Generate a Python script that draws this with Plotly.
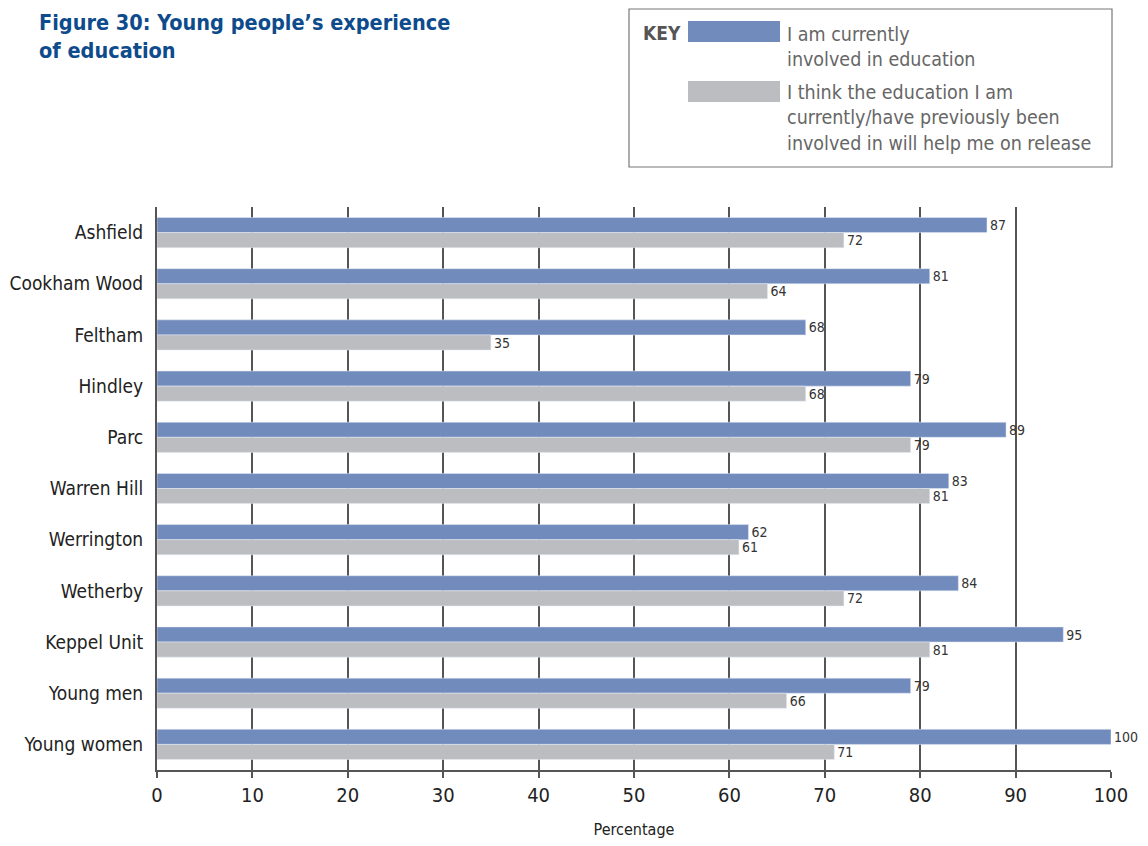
import plotly.graph_objects as go

categories = ["Ashfield", "Cookham Wood", "Feltham", "Hindley", "Parc", "Warren Hill",
              "Werrington", "Wetherby", "Keppel Unit", "Young men", "Young women"]
current = [87, 81, 68, 79, 89, 83, 62, 84, 95, 79, 100]
helpful = [72, 64, 35, 68, 79, 81, 61, 72, 81, 66, 71]
x_ticks = [0, 10, 20, 30, 40, 50, 60, 70, 80, 90, 100]

BLUE = "#728bbd"
GREY = "#bcbdc1"
FONT = "DejaVu Sans Condensed, Liberation Sans Narrow, sans-serif"

# page body has an 8px default margin; work in reference-page pixels
OFF = 8
W, H = 1148 - OFF, 846 - OFF
L, R, T, B = 157 - OFF, 37, 207 - OFF, 76
PW, PH = W - L - R, H - T - B


def px(x):
    return (x - OFF - L) / PW


def py(y):
    return (H - B - (y - OFF)) / PH


fig = go.Figure()
fig.add_trace(go.Bar(y=categories, x=current, orientation="h", marker_color=BLUE,
                     text=current, textposition="outside", cliponaxis=False,
                     constraintext="none",
                     textfont=dict(size=14, color="#333", family=FONT),
                     name="I am currently involved in education"))
fig.add_trace(go.Bar(y=categories, x=helpful, orientation="h", marker_color=GREY,
                     text=helpful, textposition="outside", cliponaxis=False,
                     constraintext="none",
                     textfont=dict(size=14, color="#333", family=FONT),
                     name="I think the education will help me on release"))

shapes = [
    dict(type="rect", xref="paper", yref="paper", x0=px(629), x1=px(1112), y0=py(167), y1=py(9),
         line=dict(color="#777", width=1.2), fillcolor="rgba(0,0,0,0)"),
    dict(type="rect", xref="paper", yref="paper", x0=px(688), x1=px(780), y0=py(42), y1=py(21),
         line=dict(width=0), fillcolor=BLUE),
    dict(type="rect", xref="paper", yref="paper", x0=px(688), x1=px(780), y0=py(102), y1=py(81),
         line=dict(width=0), fillcolor=GREY),
]

annotations = [
    dict(text="<b>Figure 30: Young people’s experience<br>of education</b>", xref="paper", yref="paper",
         x=px(37), y=py(8), xanchor="left", yanchor="top", align="left", showarrow=False,
         font=dict(size=21.5, color="#0d4b8c", family=FONT)),
    dict(text="<b>KEY</b>", xref="paper", yref="paper", x=px(641), y=py(33), xanchor="left",
         yanchor="middle", showarrow=False, font=dict(size=19, color="#555", family=FONT)),
    dict(text="I am currently<br>involved in education", xref="paper", yref="paper",
         x=px(785), y=py(21), xanchor="left", yanchor="top", align="left", showarrow=False,
         font=dict(size=19.5, color="#666", family=FONT)),
    dict(text="I think the education I am<br>currently/have previously been<br>involved in will help me on release",
         xref="paper", yref="paper", x=px(785), y=py(79), xanchor="left", yanchor="top",
         align="left", showarrow=False, font=dict(size=19.5, color="#666", family=FONT)),
]

fig.update_layout(
    width=W, height=H,
    margin=dict(l=L, r=R, t=T, b=B, autoexpand=False),
    paper_bgcolor="white", plot_bgcolor="white",
    barmode="group", bargap=0.41, bargroupgap=0,
    showlegend=False,
    font=dict(family=FONT, color="#222"),
    shapes=shapes, annotations=annotations,
    xaxis=dict(range=[0, 100], tickvals=x_ticks, showgrid=True, gridcolor="#555", gridwidth=2,
               showline=True, linecolor="#555", linewidth=2, ticks="outside", ticklen=6,
               tickwidth=2, tickcolor="#555", zeroline=False, automargin=False,
               tickfont=dict(size=20, color="#222", family=FONT),
               title=dict(text="Percentage", font=dict(size=16, color="#222", family=FONT), standoff=18)),
    yaxis=dict(autorange="reversed", showline=True, linecolor="#555", linewidth=2,
               ticks="", showgrid=False, ticklabelstandoff=8, automargin=False,
               tickfont=dict(size=19, color="#222", family=FONT)),
)

fig.write_html("out.html")
